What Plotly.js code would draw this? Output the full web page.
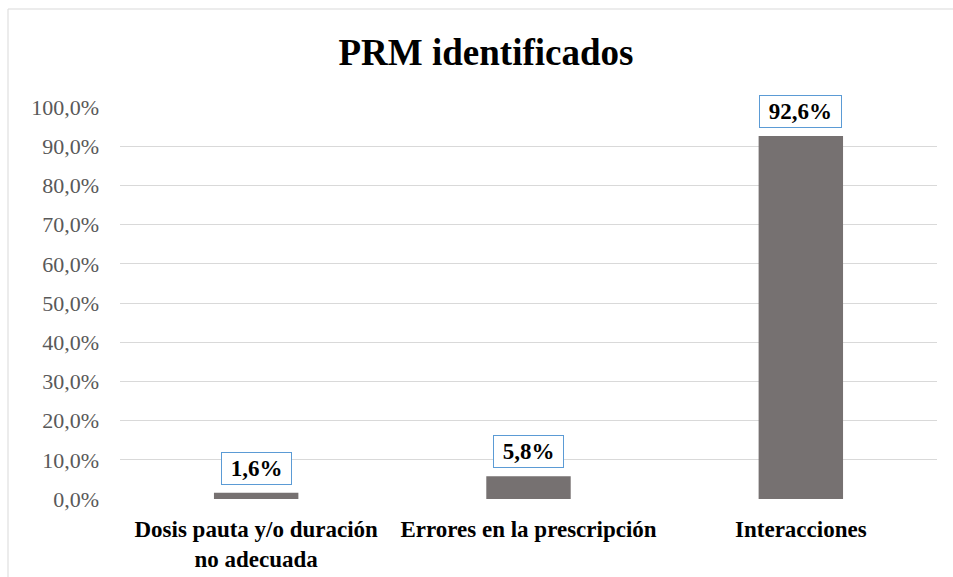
<!DOCTYPE html>
<html>
<head>
<meta charset="utf-8">
<script src="https://cdn.plot.ly/plotly-3.0.1.min.js"></script>
<style>
  html, body { margin: 0; padding: 0; background: #ffffff; }
  #chart { width: 953px; height: 577px; }
</style>
</head>
<body>
<div id="chart"></div>
<script>
const categories = ["Dosis pauta y/o duración<br>no adecuada", "Errores en la prescripción", "Interacciones"];
const values = [1.6, 5.8, 92.6];
const valueLabels = ["1,6%", "5,8%", "92,6%"];
const tickValues = [0, 10, 20, 30, 40, 50, 60, 70, 80, 90, 100];
const tickLabels = ["0,0%", "10,0%", "20,0%", "30,0%", "40,0%", "50,0%", "60,0%", "70,0%", "80,0%", "90,0%", "100,0%"];
const titleText = "PRM identificados";

const W = 953, H = 577;
const margin = {l: 120, r: 16, t: 107, b: 78};
const pw = W - margin.l - margin.r, ph = H - margin.t - margin.b;
const px = x => (x - margin.l) / pw;
const py = y => (H - margin.b - y) / ph;

const serif = "Liberation Serif, Times New Roman, serif";

const trace = {
  type: 'bar',
  x: categories,
  y: values,
  width: 0.31,
  marker: {color: '#767171'},
  hoverinfo: 'none'
};

const annotations = categories.map((c, i) => ({
  x: c, y: values[i], xref: 'x', yref: 'y',
  text: '\u00a0' + valueLabels[i] + '\u00a0',
  showarrow: false,
  yanchor: 'bottom',
  yshift: 8,
  font: {family: serif, size: 23, color: '#000000', weight: 'bold'},
  bgcolor: '#ffffff',
  bordercolor: '#5b9bd5',
  borderwidth: 1,
  borderpad: 3
}));

const layout = {
  width: W, height: H,
  margin: margin,
  paper_bgcolor: '#ffffff',
  plot_bgcolor: '#ffffff',
  showlegend: false,
  title: {
    text: '<b>' + titleText + '</b>',
    font: {family: serif, size: 37, color: '#000000'},
    x: 486 / W, xref: 'container', xanchor: 'center',
    y: 1 - 52 / H, yref: 'container', yanchor: 'middle'
  },
  xaxis: {
    type: 'category',
    showgrid: false,
    zeroline: false,
    showline: false,
    ticks: '',
    tickfont: {family: serif, size: 23, color: '#000000', weight: 'bold'},
    ticklabelstandoff: 14,
    fixedrange: true
  },
  yaxis: {
    range: [0, 100],
    tickmode: 'array',
    tickvals: tickValues,
    ticktext: tickLabels,
    showgrid: true,
    gridcolor: '#d9d9d9',
    gridwidth: 1,
    zeroline: false,
    showline: false,
    ticks: '',
    tickfont: {family: serif, size: 22, color: '#595959'},
    ticklabelstandoff: 20,
    fixedrange: true
  },
  annotations: annotations,
  shapes: [
    {type: 'line', xref: 'paper', yref: 'paper', x0: px(8), x1: px(8), y0: py(9), y1: py(H + 2), line: {color: '#d9d9d9', width: 1}},
    {type: 'line', xref: 'paper', yref: 'paper', x0: px(8), x1: px(W + 2), y0: py(9), y1: py(9), line: {color: '#d9d9d9', width: 1}}
  ]
};

Plotly.newPlot('chart', [trace], layout, {displayModeBar: false, staticPlot: true});
</script>
</body>
</html>
